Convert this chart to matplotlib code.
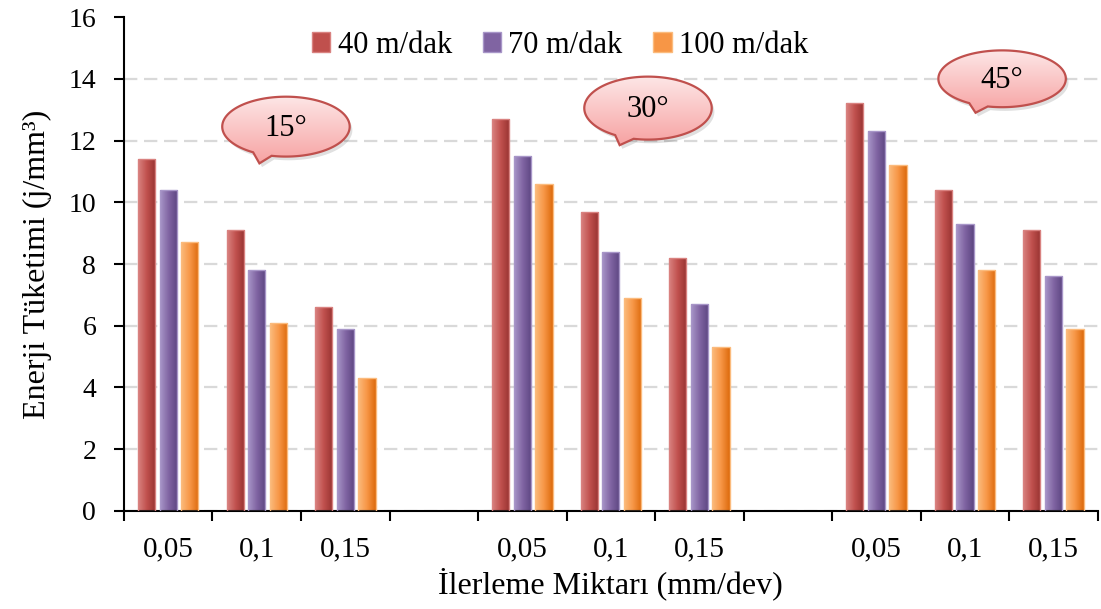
import numpy as np
import matplotlib.pyplot as plt
from matplotlib.colors import LinearSegmentedColormap
from matplotlib.patches import Polygon, Patch

plt.rcParams['font.family'] = ['Liberation Serif', 'DejaVu Serif']

# Data
slot_labels = ['0,05', '0,1', '0,15', '', '0,05', '0,1', '0,15', '', '0,05', '0,1', '0,15']
data_slots = [0, 1, 2, 4, 5, 6, 8, 9, 10]
series = ['40 m/dak', '70 m/dak', '100 m/dak']
v40 = [11.4, 9.1, 6.6, 12.7, 9.7, 8.2, 13.2, 10.4, 9.1]
v70 = [10.4, 7.8, 5.9, 11.5, 8.4, 6.7, 12.3, 9.3, 7.6]
v100 = [8.7, 6.1, 4.3, 10.6, 6.9, 5.3, 11.2, 7.8, 5.9]
angle_labels = ['15°', '30°', '45°']

# bar colours: (light, mid, dark)
grads = [('#d98280', '#c0504d', '#973331'),
         ('#a896c8', '#8064a2', '#5c4581'),
         ('#fbbb7d', '#f79646', '#dc6a0c')]

fig = plt.figure(figsize=(11.01, 6.09), dpi=100)
ax = fig.add_axes([0.1126, 0.161, 0.8844, 0.811])

x = np.array(data_slots, dtype=float)
w = 0.195
step = 0.244
for k, (vals, g, name) in enumerate(zip([v40, v70, v100], grads, series)):
    cmap = LinearSegmentedColormap.from_list('g%d' % k, [g[0], g[1], g[2]])
    bars = ax.bar(x + (k - 1) * step, vals, width=w, color=g[1],
                  edgecolor=g[0], linewidth=1.0, zorder=3, label=name)
    grad = np.linspace(0, 1, 64).reshape(1, -1)
    for b in bars:
        x0, y0 = b.get_x(), b.get_y()
        im = ax.imshow(grad, extent=(x0, x0 + b.get_width(), y0, y0 + b.get_height()),
                       cmap=cmap, aspect='auto', zorder=2.5, interpolation='bilinear')
        im.set_clip_path(b)
        b.set_facecolor('none')

# speech bubbles: center x, center y, half width, half height, tip x, tip y, base angles
bubbles = [(1.33, 12.45, 0.72, 0.97, 1.03, 11.26, 239, 257),
           (5.42, 13.05, 0.72, 1.02, 5.10, 11.85, 239, 257),
           (9.42, 14.00, 0.72, 0.92, 9.12, 12.90, 239, 257)]
pink = LinearSegmentedColormap.from_list('pink', ['#f7a3a3', '#fde6e6'])
for (cx, cy, a, bb, tx, ty, t1, t2), lab in zip(bubbles, angle_labels):
    ta = np.radians(np.linspace(0, t1, 120))
    tb = np.radians(np.linspace(t2, 360, 60))
    pts = np.vstack([np.column_stack([cx + a * np.cos(ta), cy + bb * np.sin(ta)]),
                     [[tx, ty]],
                     np.column_stack([cx + a * np.cos(tb), cy + bb * np.sin(tb)])])
    shadow = Polygon(pts + [0.03, -0.12], closed=True, facecolor='#000000',
                     alpha=0.12, edgecolor='none', zorder=4)
    ax.add_patch(shadow)
    poly = Polygon(pts, closed=True, facecolor='none', edgecolor='#c0504d',
                   linewidth=1.6, zorder=6)
    ax.add_patch(poly)
    vg = np.linspace(0, 1, 64).reshape(-1, 1)
    im = ax.imshow(vg, extent=(cx - a, cx + a, ty, cy + bb), origin='lower',
                   cmap=pink, aspect='auto', zorder=5, interpolation='bilinear')
    im.set_clip_path(poly)
    ax.text(cx, cy - 0.05, lab, ha='center', va='center', fontsize=22, zorder=7)

ax.set_xlim(-0.5, 10.5)
ax.set_ylim(0, 16)
ax.set_yticks(np.arange(0, 17, 2))
ax.set_xticks(np.arange(11))
ax.set_xticklabels(slot_labels)
ax.set_xticks(np.arange(-0.5, 11, 1), minor=True)
ax.tick_params(axis='x', which='major', length=0, pad=18, labelsize=21)
ax.tick_params(axis='x', which='minor', length=7, width=1.5, direction='out')
ax.tick_params(axis='y', length=7, width=1.5, direction='out', labelsize=20, pad=13)

for s in ['top', 'right']:
    ax.spines[s].set_visible(False)
for s in ['left', 'bottom']:
    ax.spines[s].set_linewidth(1.5)
ax.set_axisbelow(True)
ax.yaxis.grid(True, color='#d9d9d9', linestyle=(0, (6, 3)), linewidth=1.6)
for gl in ax.get_ygridlines()[-1:]:
    gl.set_visible(False)

ax.set_ylabel('Enerji Tüketimi (j/mm³)', fontsize=23, labelpad=12)
ax.set_xlabel('İlerleme Miktarı (mm/dev)', fontsize=23, labelpad=4)

handles = [Patch(facecolor=g[1], edgecolor=g[0]) for g in grads]
ax.legend(handles, series, loc='center', bbox_to_anchor=(0.448, 0.943), ncol=3,
          frameon=False, fontsize=22, handlelength=0.6, handleheight=0.6,
          handletextpad=0.25, columnspacing=1.0, borderpad=0.2)

fig.savefig('out.png', dpi=100)
